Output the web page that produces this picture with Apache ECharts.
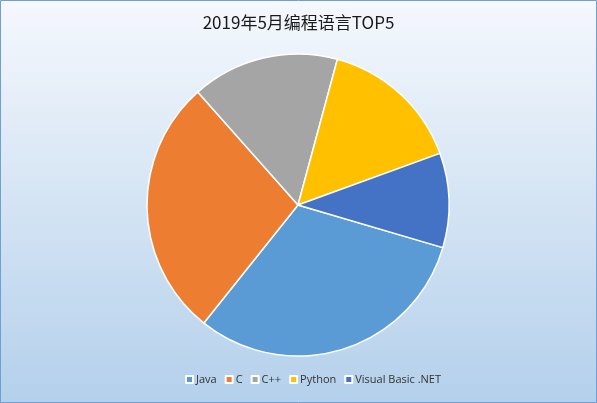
<!DOCTYPE html>
<html><head><meta charset="utf-8">
<script src="https://cdn.jsdelivr.net/npm/echarts@6/dist/echarts.min.js"></script>
<style>html,body{margin:0;padding:0;}#c{width:597px;height:403px;}</style>
</head><body><div id="c"></div>
<script>
const titleText = '2019年5月编程语言TOP5';
const categories = ['Java', 'C', 'C++', 'Python', 'Visual Basic .NET'];
const values = [16.005, 14.243, 8.095, 7.830, 5.193];
const colors = ['#5B9BD5', '#ED7D31', '#A5A5A5', '#FFC000', '#4472C4'];

const chart = echarts.init(document.getElementById('c'));
chart.setOption({
  backgroundColor: new echarts.graphic.LinearGradient(0, 0, 0, 1, [
    {offset: 0, color: '#F5F8FD'},
    {offset: 1, color: '#B4D0EB'}
  ]),
  title: {
    text: titleText, left: 'center', top: 9,
    textStyle: {fontFamily: 'Noto Sans CJK SC', fontSize: 17, fontWeight: 'normal', color: '#1a1a1a'}
  },
  legend: {
    bottom: 13, left: 180, itemWidth: 7, itemHeight: 7, itemGap: 8,
    icon: 'rect',
    textStyle: {fontFamily: 'Open Sans', fontSize: 11, color: '#333', padding: [0, 0, 0, -2]},
    data: categories
  },
  graphic: [{
    type: 'rect', shape: {x: 0.5, y: 0.5, width: 596, height: 402},
    style: {fill: 'none', stroke: '#6F9FD3', lineWidth: 1}, silent: true
  }],
  series: [{
    type: 'pie',
    center: [298, 205],
    radius: [0, 151],
    startAngle: -16.4,
    clockwise: true,
    label: {show: false},
    labelLine: {show: false},
    itemStyle: {borderColor: '#fff', borderWidth: 1.5},
    emphasis: {disabled: true},
    animation: false,
    data: categories.map((n, i) => ({name: n, value: values[i], itemStyle: {color: colors[i]}}))
  }]
});
</script></body></html>
